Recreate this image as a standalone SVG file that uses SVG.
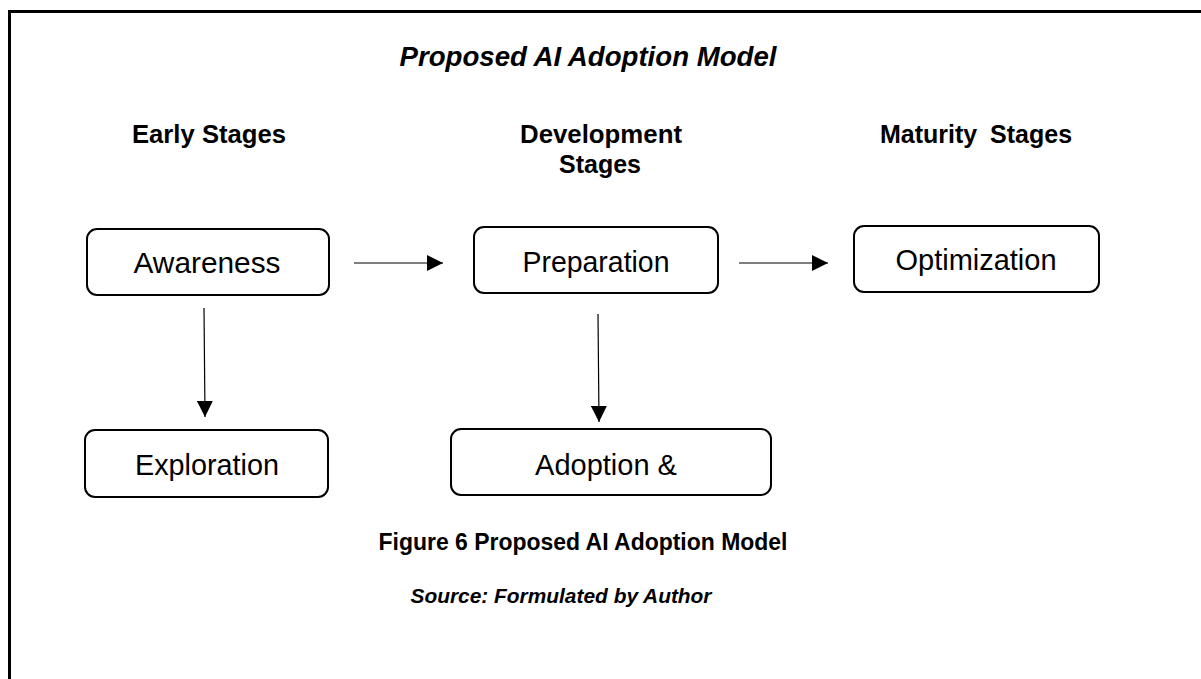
<svg xmlns="http://www.w3.org/2000/svg" width="1201" height="679" viewBox="0 0 1201 679">
<style>
text{font-family:"Liberation Sans",Arial,sans-serif;fill:#000}
.title{font-size:27px;font-weight:bold;font-style:italic}
.head{font-size:25px;font-weight:bold}
.node rect{fill:#fff;stroke:#000;stroke-width:2}
.node text{font-size:29px}
.cap{font-size:23px;font-weight:bold}
.src{font-size:21px;font-weight:bold;font-style:italic}
.conn line{stroke:#000;stroke-width:1.2}
</style>
<defs>
<marker id="ah" markerWidth="16" markerHeight="16" refX="16" refY="8" orient="auto" markerUnits="userSpaceOnUse">
<path d="M0,0 L16,8 L0,16 Z" fill="#000"/>
</marker>
</defs>
<rect width="1201" height="679" fill="#fff"/>
<path d="M9.5,679 V11.5 H1201" fill="none" stroke="#000" stroke-width="3"/>
<text class="title" x="588" y="66" text-anchor="middle" textLength="377" lengthAdjust="spacingAndGlyphs">Proposed AI Adoption Model</text>
<text class="head" x="209" y="143" text-anchor="middle" textLength="154" lengthAdjust="spacingAndGlyphs">Early Stages</text>
<text class="head" x="601" y="143" text-anchor="middle" textLength="162" lengthAdjust="spacingAndGlyphs">Development</text>
<text class="head" x="600" y="173" text-anchor="middle" textLength="82" lengthAdjust="spacingAndGlyphs">Stages</text>
<text class="head" x="976" y="143" text-anchor="middle" word-spacing="6">Maturity Stages</text>
<g class="conn" id="connectors">
<line x1="354" y1="263" x2="443" y2="263" marker-end="url(#ah)"/>
<line x1="739" y1="263" x2="828" y2="263" marker-end="url(#ah)"/>
<line x1="204" y1="308" x2="205" y2="417" marker-end="url(#ah)"/>
<line x1="598" y1="314" x2="599" y2="422" marker-end="url(#ah)"/>
</g>
<g class="node" id="awareness">
<rect x="87" y="229" width="242" height="66" rx="10"/>
<text x="207" y="273" text-anchor="middle" textLength="147" lengthAdjust="spacingAndGlyphs">Awareness</text>
</g>
<g class="node" id="preparation">
<rect x="474" y="227" width="244" height="66" rx="10"/>
<text x="596" y="272" text-anchor="middle" textLength="147" lengthAdjust="spacingAndGlyphs">Preparation</text>
</g>
<g class="node" id="optimization">
<rect x="854" y="226" width="245" height="66" rx="10"/>
<text x="976" y="270" text-anchor="middle" textLength="161" lengthAdjust="spacingAndGlyphs">Optimization</text>
</g>
<g class="node" id="exploration">
<rect x="85" y="430" width="243" height="67" rx="10"/>
<text x="207" y="475" text-anchor="middle" textLength="144" lengthAdjust="spacingAndGlyphs">Exploration</text>
</g>
<g class="node" id="adoption">
<rect x="451" y="429" width="320" height="66" rx="10"/>
<text x="606" y="475" text-anchor="middle">Adoption &amp;</text>
</g>
<text class="cap" x="583" y="550" text-anchor="middle" textLength="409" lengthAdjust="spacingAndGlyphs">Figure 6 Proposed AI Adoption Model</text>
<text class="src" x="561" y="603" text-anchor="middle" textLength="301" lengthAdjust="spacingAndGlyphs">Source: Formulated by Author</text>
</svg>
